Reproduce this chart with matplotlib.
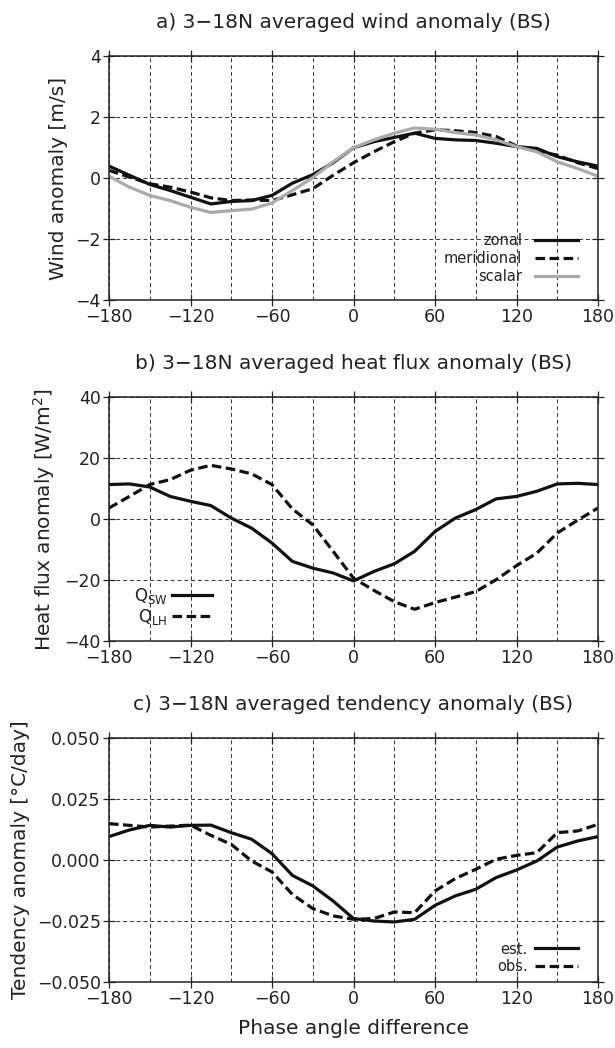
import matplotlib
matplotlib.use("Agg")
import matplotlib.pyplot as plt
import numpy as np

plt.rcParams['font.family'] = ['DejaVu Sans']
plt.rcParams['mathtext.fontset'] = 'dejavusans'

phase = list(range(-180, 181, 15))

zonal = [0.39, 0.09, -0.21, -0.41, -0.63, -0.85, -0.77, -0.74, -0.57, -0.17, 0.11, 0.50,
         0.99, 1.19, 1.33, 1.47, 1.30, 1.25, 1.23, 1.14, 1.03, 0.97, 0.70, 0.53, 0.39]
meridional = [0.25, 0.03, -0.19, -0.30, -0.46, -0.65, -0.74, -0.72, -0.74, -0.55, -0.35, 0.09,
              0.50, 0.86, 1.19, 1.47, 1.58, 1.55, 1.49, 1.36, 1.05, 0.88, 0.75, 0.50, 0.31]
scalar = [0.06, -0.30, -0.57, -0.74, -0.96, -1.13, -1.07, -1.02, -0.82, -0.41, 0.01, 0.53,
          0.99, 1.25, 1.47, 1.64, 1.60, 1.49, 1.41, 1.25, 1.03, 0.86, 0.53, 0.31, 0.06]

q_sw = [11.3, 11.5, 10.5, 7.4, 5.8, 4.4, 0.3, -3.0, -7.9, -13.9, -16.1, -17.7,
        -20.3, -17.2, -14.7, -10.6, -4.1, 0.3, 3.1, 6.6, 7.4, 9.1, 11.5, 11.7, 11.3]
q_lh = [3.6, 7.4, 11.3, 12.9, 16.0, 17.6, 16.4, 14.8, 11.3, 3.3, -1.9, -10.6,
        -19.4, -23.4, -27.1, -29.6, -27.4, -25.6, -23.8, -19.9, -15.3, -11.2, -4.6, -0.4, 3.6]

est = [0.0096, 0.0123, 0.0142, 0.0135, 0.0142, 0.0143, 0.0112, 0.0085, 0.0026, -0.0063,
       -0.0106, -0.0168, -0.0240, -0.0250, -0.0254, -0.0243, -0.0186, -0.0147, -0.0120,
       -0.0072, -0.0041, -0.0004, 0.0053, 0.0078, 0.0096]
obs = [0.0149, 0.0142, 0.0135, 0.0139, 0.0143, 0.0101, 0.0064, -0.0004, -0.0049, -0.0141,
       -0.0199, -0.0229, -0.0243, -0.0240, -0.0213, -0.0216, -0.0127, -0.0076, -0.0038,
       0.0003, 0.0019, 0.0030, 0.0112, 0.0119, 0.0146]

xticks = [-180, -120, -60, 0, 60, 120, 180]
xgrid = list(range(-180, 181, 30))

titles = ["a) 3\u221218N averaged wind anomaly (BS)",
          "b) 3\u221218N averaged heat flux anomaly (BS)",
          "c) 3\u221218N averaged tendency anomaly (BS)"]
ylabels = ["Wind anomaly [m/s]", "Heat flux anomaly [W/m$^2$]",
           "Tendency anomaly [\u00b0C/day]"]
yticks_a = [-4, -2, 0, 2, 4]
yticks_b = [-40, -20, 0, 20, 40]
yticks_c = [-0.05, -0.025, 0.0, 0.025, 0.05]
yticklabels_c = ["\u22120.050", "\u22120.025", "0.000", "0.025", "0.050"]

fig = plt.figure(figsize=(6.15, 10.48), dpi=100)
W, H = 615, 1048
left, right = 109, 598
tops = [56, 397, 738]
h = 244

txtcol = '#222222'
dash = (0, (3.0, 1.4))
lw = 2.3
tick_fs = 12.5
lab_fs = 14.5

axes = []
for t in tops:
    ax = fig.add_axes([left / W, 1 - (t + h) / H, (right - left) / W, h / H])
    axes.append(ax)

for ax, title, yl, yt in zip(axes, titles, ylabels, [yticks_a, yticks_b, yticks_c]):
    ax.set_xlim(-180, 180)
    ax.set_ylim(yt[0], yt[-1])
    ax.set_xticks(xticks)
    ax.set_xticklabels([str(v).replace('-', '\u2212') for v in xticks])
    ax.set_yticks(yt)
    ax.set_xticks(xgrid, minor=True)
    ax.tick_params(which='major', direction='inout', length=8, width=0.9,
                   top=True, right=True, labelsize=tick_fs, colors=txtcol, pad=2)
    ax.tick_params(which='minor', length=0)
    ax.grid(True, which='both', axis='x', linestyle=(0, (4, 3)), color='#333333', linewidth=0.7)
    ax.grid(True, which='major', axis='y', linestyle=(0, (4, 3)), color='#333333', linewidth=0.7)
    ax.set_axisbelow(True)
    for s in ax.spines.values():
        s.set_linewidth(1.1)
        s.set_color('#222222')
    ax.set_title(title, fontsize=lab_fs, pad=20, color=txtcol)
    ax.set_ylabel(yl, fontsize=lab_fs, color=txtcol, labelpad=5)

axa, axb, axc = axes
axa.set_yticklabels([str(v).replace('-', '\u2212') for v in yticks_a])
axb.set_yticklabels([str(v).replace('-', '\u2212') for v in yticks_b])
axc.set_yticklabels(yticklabels_c)

axa.plot(phase, zonal, color='#111111', lw=lw, label='zonal', solid_joinstyle='round')
axa.plot(phase, meridional, color='#111111', lw=lw, linestyle=dash, label='meridional')
axa.plot(phase, scalar, color='#aaaaaa', lw=lw, label='scalar', solid_joinstyle='round')
axa.legend(loc='lower right', markerfirst=False, frameon=False, fontsize=10.5,
           handlelength=2.9, handletextpad=0.9, labelspacing=0.22,
           bbox_to_anchor=(0.985, 0.01), labelcolor=txtcol)

axb.plot(phase, q_sw, color='#111111', lw=lw, label='Q$_{\\mathrm{SW}}$', solid_joinstyle='round')
axb.plot(phase, q_lh, color='#111111', lw=lw, linestyle=dash, label='Q$_{\\mathrm{LH}}$')
axb.legend(loc='lower left', markerfirst=False, frameon=False, fontsize=12,
           handlelength=2.4, handletextpad=0.25, labelspacing=0.1,
           bbox_to_anchor=(0.02, -0.005), labelcolor=txtcol)

axc.plot(phase, est, color='#111111', lw=lw, label='est.', solid_joinstyle='round')
axc.plot(phase, obs, color='#111111', lw=lw, linestyle=dash, label='obs.')
axc.legend(loc='lower right', markerfirst=False, frameon=False, fontsize=10.5,
           handlelength=2.9, handletextpad=0.5, labelspacing=0.15,
           bbox_to_anchor=(0.985, -0.02), labelcolor=txtcol)
axc.set_xlabel("Phase angle difference", fontsize=lab_fs, color=txtcol, labelpad=8)

fig.savefig("out.png", dpi=100)
